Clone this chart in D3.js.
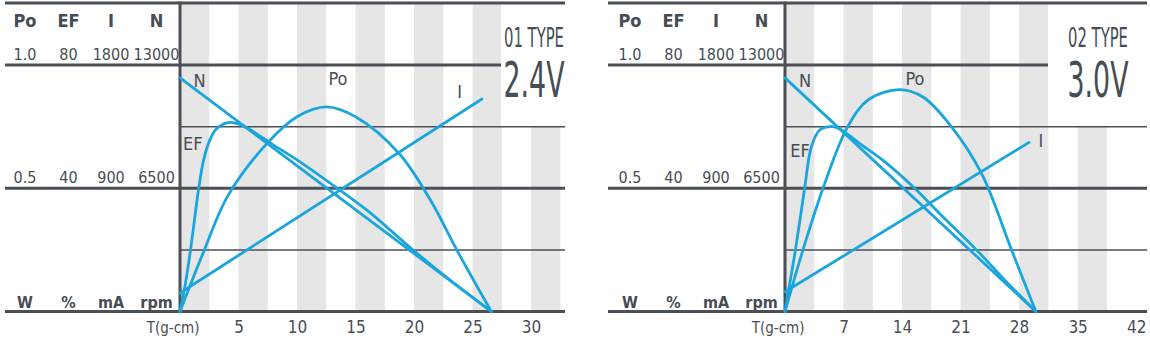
<!DOCTYPE html>
<html><head><meta charset="utf-8">
<script src="https://cdn.jsdelivr.net/npm/d3@7"></script>
<style>
html,body{margin:0;padding:0;background:#fff;}
svg{display:block;}
text{font-family:"Liberation Sans Narrow","DejaVu Sans Condensed","Arial Narrow",sans-serif;fill:#474d54;}
</style></head><body>
<svg id="chart" width="1150" height="339"></svg>
<script>
// ---------- DATA ----------
const seriesNames = ["Po", "EF", "I", "N"];
const seriesUnits = ["W", "%", "mA", "rpm"];
const seriesMax = [1.0, 80, 1800, 13000];
const maxLabels = ["1.0", "80", "1800", "13000"];
const midLabels = ["0.5", "40", "900", "6500"];
const torqueLabel = "T(g-cm)";

// Panel 1 : 01 TYPE 2.4V
const typeName1 = "01 TYPE";
const voltage1 = "2.4V";
const tickValues1 = [5, 10, 15, 20, 25, 30];
const torqueMax1 = 32.9;
const po1T = [0, 2, 4.1, 7.5, 10, 12.5, 15, 18.7, 21.4, 23.65, 26.6];
const po1W = [0, 0.24, 0.47, 0.685, 0.79, 0.83, 0.79, 0.642, 0.452, 0.25, 0];
const ef1T = [0, 0.45, 0.9, 1.6, 2.0, 2.5, 3.1, 4.1, 5.3, 8, 10, 13, 16, 19.9, 23, 26.6];
const ef1P = [0, 8.8, 20, 40, 48.8, 55.2, 59.2, 61.3, 60.4, 54, 49.2, 41.2, 32.8, 20, 10.4, 0];
const i1T = [0, 25.8];
const i1mA = [135, 1552];
const n1T = [0, 26.6];
const n1rpm = [12320, 0];

// Panel 2 : 02 TYPE 3.0V
const typeName2 = "02 TYPE";
const voltage2 = "3.0V";
const tickValues2 = [7, 14, 21, 28, 35, 42];
const torqueMax2 = 43.3;
const po2T = [0, 2.15, 4.55, 7.5, 10, 13.7, 16.5, 19.9, 23.5, 27.1, 30];
const po2W = [0, 0.25, 0.5, 0.75, 0.86, 0.9, 0.87, 0.75, 0.56, 0.25, 0];
const ef2T = [0, 0.6, 1.25, 2.35, 3.15, 4.15, 5.74, 6.7, 9, 11.7, 15.5, 19, 22.9, 26.5, 30];
const ef2P = [0, 9.6, 20, 40, 53.4, 58.9, 60, 59, 54.4, 49.1, 40, 30.4, 20, 9.6, 0];
const i2T = [0, 29.2];
const i2mA = [144, 1235];
const n2T = [0, 30.0];
const n2rpm = [12320, 0];

// ---------- LAYOUT ----------
const BLUE = "#1aa6dd";
const DARK = "#4b5056";
const BAND = "#e6e6e6";

const panels = [
  {
    left: 5, axisX: 180, right: 565, boxLeft: 501,
    torqueMax: torqueMax1, ticks: tickValues1, typeName: typeName1, voltage: voltage1,
    series: {Po: [po1T, po1W], EF: [ef1T, ef1P], I: [i1T, i1mA], N: [n1T, n1rpm]},
    labels: [["N", 1.68, 86.7], ["Po", 13.5, 85], ["I", 23.9, 98.3], ["EF", 1.1, 150]],
    textX: 534
  },
  {
    left: 608, axisX: 785, right: 1147, boxLeft: 1048,
    torqueMax: torqueMax2, ticks: tickValues2, typeName: typeName2, voltage: voltage2,
    series: {Po: [po2T, po2W], EF: [ef2T, ef2P], I: [i2T, i2mA], N: [n2T, n2rpm]},
    labels: [["N", 2.4, 86.7], ["Po", 15.55, 85], ["I", 30.6, 147], ["EF", 1.8, 156.7]],
    textX: 1098
  }
];

const headerOffsets = [-155, -111.5, -69, -23.5];
const yTop = 3, yMaxLine = 65, yBottom = 311.5;

const svg = d3.select("#chart");

// draws text horizontally scaled to a given width, centred on cx
function fittedText(g, str, cx, y, size, width) {
  const t = g.append("text").attr("font-size", size).attr("text-anchor", "middle").attr("x", 0).attr("y", 0).text(str);
  const w = t.node().getComputedTextLength();
  const sx = Math.min(1, width / w);
  t.attr("transform", `translate(${cx},${y}) scale(${sx},1)`);
  return t;
}

panels.forEach(p => {
  const g = svg.append("g");
  const x = d3.scaleLinear().domain([0, p.torqueMax]).range([p.axisX, p.right]);
  const yFrac = d3.scaleLinear().domain([0, 1]).range([yBottom, yMaxLine]);
  const yScales = {};
  seriesNames.forEach((s, i) => {
    yScales[s] = d3.scaleLinear().domain([0, seriesMax[i]]).range([yBottom, yMaxLine]);
  });

  // gray bands (only full bands inside the plot)
  const step = p.ticks[0];
  const bandStarts = d3.range(0, p.torqueMax, step).filter(d => d + step / 2 <= p.torqueMax);
  g.selectAll("rect.band").data(bandStarts).join("rect")
    .attr("class", "band")
    .attr("x", d => x(d))
    .attr("y", yTop)
    .attr("width", d => x(d + step / 2) - x(d))
    .attr("height", yBottom - yTop)
    .attr("fill", BAND);

  // white type box
  g.append("rect")
    .attr("x", p.boxLeft).attr("y", yTop)
    .attr("width", p.right - p.boxLeft)
    .attr("height", yFrac(0.75) - yTop)
    .attr("fill", "#fff");

  // grid lines
  const thick = [
    [p.left, p.right, yTop],
    [p.left, p.boxLeft, yFrac(1)],
    [p.left, p.right, yFrac(0.5)],
    [p.left, p.right, yFrac(0)]
  ];
  g.selectAll("line.thick").data(thick).join("line")
    .attr("x1", d => d[0]).attr("x2", d => d[1])
    .attr("y1", d => d[2]).attr("y2", d => d[2])
    .attr("stroke", DARK).attr("stroke-width", 3);
  const thin = [0.75, 0.25];
  g.selectAll("line.thin").data(thin).join("line")
    .attr("x1", p.axisX).attr("x2", p.right)
    .attr("y1", d => yFrac(d)).attr("y2", d => yFrac(d))
    .attr("stroke", DARK).attr("stroke-width", 1.5);
  g.append("line")
    .attr("x1", p.axisX).attr("x2", p.axisX)
    .attr("y1", yTop - 1.5).attr("y2", yBottom + 1.5)
    .attr("stroke", DARK).attr("stroke-width", 3);

  // curves
  seriesNames.forEach(s => {
    const [ts, vs] = p.series[s];
    const pts = ts.map((t, i) => [t, vs[i]]);
    const line = d3.line()
      .x(d => x(d[0]))
      .y(d => yScales[s](d[1]))
      .curve(pts.length > 2 ? d3.curveCatmullRom.alpha(0.5) : d3.curveLinear);
    g.append("path")
      .attr("d", line(pts))
      .attr("fill", "none")
      .attr("stroke", BLUE)
      .attr("stroke-width", 2.8)
      .attr("stroke-linejoin", "round")
      .attr("stroke-linecap", "round");
  });

  // curve labels
  g.selectAll("text.clabel").data(p.labels).join("text")
    .attr("class", "clabel")
    .attr("x", d => x(d[1]))
    .attr("y", d => d[2])
    .attr("text-anchor", "middle")
    .attr("font-size", 18)
    .text(d => d[0]);

  // header columns
  seriesNames.forEach((s, i) => {
    const cx = p.axisX + headerOffsets[i];
    g.append("text").attr("x", cx).attr("y", 26.7).attr("text-anchor", "middle")
      .attr("font-size", 18).attr("font-weight", "bold").text(s);
    g.append("text").attr("x", cx).attr("y", 60).attr("text-anchor", "middle")
      .attr("font-size", 16).text(maxLabels[i]);
    g.append("text").attr("x", cx).attr("y", 183).attr("text-anchor", "middle")
      .attr("font-size", 16).text(midLabels[i]);
    g.append("text").attr("x", cx).attr("y", 308).attr("text-anchor", "middle")
      .attr("font-size", 16).attr("font-weight", "bold").text(seriesUnits[i]);
  });

  // x axis ticks
  const axis = d3.axisBottom(x).tickValues(p.ticks).tickSize(0).tickPadding(0).tickFormat(d3.format("d"));
  const ax = g.append("g").attr("transform", `translate(0,${yBottom + 21.5})`).call(axis);
  ax.select(".domain").remove();
  ax.selectAll("text")
    .attr("dy", 0)
    .attr("font-size", 17)
    .attr("fill", "#474d54")
    .style("font-family", '"Liberation Sans Narrow","DejaVu Sans Condensed",sans-serif');
  g.append("text").attr("x", p.axisX + 19.5).attr("y", 333).attr("text-anchor", "end")
    .attr("font-size", 15)
    .text(torqueLabel);

  // type and voltage
  fittedText(g, p.typeName, p.textX, 46.7, 26, 60);
  fittedText(g, p.voltage, p.textX, 97.3, 49, 61);
});
</script>
</body></html>
